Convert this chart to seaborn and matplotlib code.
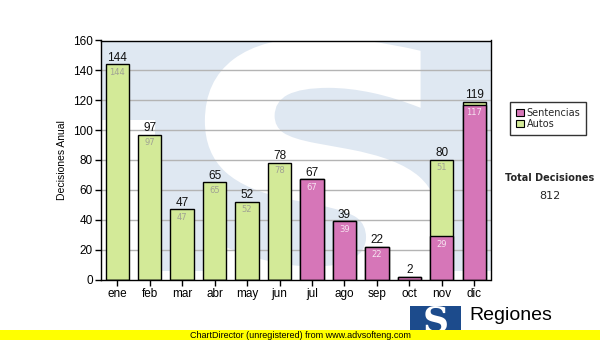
import matplotlib
matplotlib.use("Agg")
import matplotlib.pyplot as plt
import seaborn as sns
from matplotlib.patches import Rectangle, Patch, PathPatch
from matplotlib.textpath import TextPath
from matplotlib.font_manager import FontProperties
from matplotlib.transforms import Affine2D

meses = ['ene', 'feb', 'mar', 'abr', 'may', 'jun', 'jul', 'ago', 'sep', 'oct', 'nov', 'dic']
sentencias = [0, 0, 0, 0, 0, 0, 67, 39, 22, 2, 29, 117]
autos = [144, 97, 47, 65, 52, 78, 0, 0, 0, 0, 51, 2]
y_ticks = [0, 20, 40, 60, 80, 100, 120, 140, 160]

C_SENT = '#d676b8'
C_AUTO = '#d3ea98'
C_MARK = '#dfe8f2'

sns.set_theme(style='white')
plt.rcParams['font.family'] = ['Liberation Sans', 'DejaVu Sans']

W, H = 600, 340
fig = plt.figure(figsize=(6, 3.4), dpi=100)
fig.patch.set_facecolor('white')

# plot area in pixel coordinates
L, R, T, B = 101, 490.5, 40.5, 279.5
ax = fig.add_axes([L / W, 1 - B / H, (R - L) / W, (B - T) / H])
ax.set_facecolor('white')

totales = [s + a for s, a in zip(sentencias, autos)]

# faint "TS" emblem behind the bars: T bar, block and a white S cut into it
ax.add_patch(Rectangle((-0.5, 107), 12, 60, facecolor=C_MARK, edgecolor='none', zorder=0.1))
ax.add_patch(Rectangle((1.16, 5.5), 11, 160, facecolor=C_MARK, edgecolor='none', zorder=0.1))
fp = FontProperties(family='DejaVu Sans', weight='bold')
s_path = TextPath((0, 0), 'S', prop=fp)
ext = s_path.get_extents()
x0, x1 = 2.7, 9.95
y0, y1 = -25, 162
tr = (Affine2D().translate(-ext.x0, -ext.y0)
      .scale((x1 - x0) / ext.width, (y1 - y0) / ext.height)
      .translate(x0, y0))
ax.add_patch(PathPatch(tr.transform_path(s_path), facecolor='white', edgecolor='none', zorder=0.3))

for yv in y_ticks[1:-1]:
    ax.axhline(yv, color='#b4b4b4', lw=1, zorder=0.5)

sns.barplot(x=meses, y=totales, color=C_AUTO, saturation=1, width=0.72,
            edgecolor='black', linewidth=1, ax=ax, zorder=2)
sns.barplot(x=meses, y=sentencias, color=C_SENT, saturation=1, width=0.72,
            edgecolor='black', linewidth=1, ax=ax, zorder=3)

for i, (s, a, t) in enumerate(zip(sentencias, autos, totales)):
    ax.annotate(str(t), (i, t), xytext=(0, 0.5), textcoords='offset points',
                ha='center', va='bottom', fontsize=8.5, color='#111111', zorder=5)
    if s >= 5:
        ax.annotate(str(s), (i, s), xytext=(0, -2.5), textcoords='offset points',
                    ha='center', va='top', fontsize=6, family='DejaVu Sans',
                    color='#f6e4f0', zorder=5)
    if a >= 5:
        ax.annotate(str(a), (i, t), xytext=(0, -2.5), textcoords='offset points',
                    ha='center', va='top', fontsize=6, family='DejaVu Sans',
                    color='#a0a294', zorder=5)

ax.set_xlim(-0.5, 11.5)
ax.set_ylim(0, 160)
ax.set_yticks(y_ticks)
ax.set_ylabel('Decisiones Anual', fontsize=7.5, labelpad=4, color='black')
ax.set_xlabel('')
ax.tick_params(axis='both', direction='out', length=4, width=1, color='black',
               labelsize=8.5, labelcolor='black', pad=2, left=True, bottom=True)
for spine in ax.spines.values():
    spine.set_visible(True)
    spine.set_color('black')
    spine.set_linewidth(1)
    spine.set_zorder(6)

# legend
handles = [Patch(facecolor=C_SENT, edgecolor='black', lw=0.8, label='Sentencias'),
           Patch(facecolor=C_AUTO, edgecolor='black', lw=0.8, label='Autos')]
leg = fig.legend(handles=handles, loc='upper left', bbox_to_anchor=(510 / W, 1 - 102 / H),
                 frameon=True, fancybox=False, edgecolor='black',
                 handlelength=0.8, handleheight=0.8, handletextpad=0.3,
                 labelspacing=0.1, borderpad=0.6, borderaxespad=0,
                 prop={'family': 'DejaVu Sans', 'size': 7})
leg.get_frame().set_linewidth(1)

fig.text(550 / W, 1 - 178 / H, 'Total Decisiones', ha='center', va='center',
         fontsize=7, fontweight='bold', family='DejaVu Sans')
fig.text(550 / W, 1 - 196 / H, '812', ha='center', va='center',
         fontsize=8, family='DejaVu Sans')

# logo
fig.patches.append(Rectangle((410 / W, 0), 51 / W, 34 / H, transform=fig.transFigure,
                             facecolor='#1c4b8c', edgecolor='none', zorder=1))
fig.text(435.5 / W, 1 - 321 / H, 'S', ha='center', va='center', fontsize=26,
         fontweight='bold', family='DejaVu Serif', color='white', zorder=2)
fig.text(469 / W, 1 - 316 / H, 'Regiones', ha='left', va='center', fontsize=14,
         color='black', zorder=2)

# footer strip
fig.patches.append(Rectangle((0, 0), 1, 10 / H, transform=fig.transFigure,
                             facecolor='#ffff00', edgecolor='none', zorder=3))
fig.text(0.5, 5 / H, 'ChartDirector (unregistered) from www.advsofteng.com',
         ha='center', va='center', fontsize=6.5, color='black', zorder=4)

fig.savefig('out.png', dpi=100)
